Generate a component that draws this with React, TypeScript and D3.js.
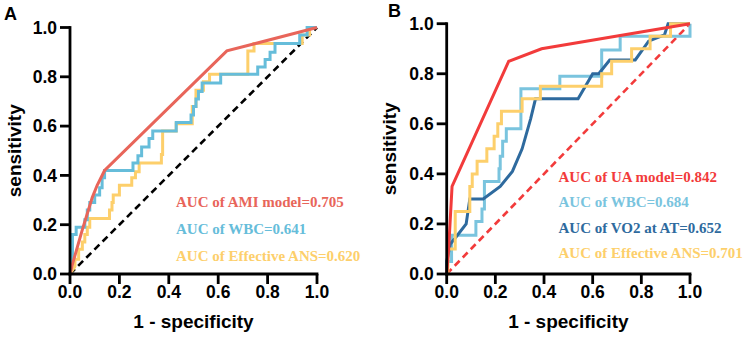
import React from "react";
import * as d3 from "d3";

type P = [number, number];

// ---------- Panel A data ----------
const amiModelA: P[] = [[0,0],[0.01,0.04],[0.05,0.18],[0.09,0.31],[0.11,0.36],[0.14,0.42],[0.635,0.905],[1,1]];
const wbcA: P[] = [[0,0],[0.01,0.06],[0.01,0.16],[0.025,0.16],[0.025,0.19],[0.06,0.19],[0.06,0.22],[0.07,0.22],[0.07,0.26],[0.08,0.26],[0.08,0.29],[0.1,0.29],[0.1,0.32],[0.12,0.32],[0.12,0.35],[0.13,0.35],[0.13,0.39],[0.14,0.39],[0.14,0.42],[0.255,0.42],[0.255,0.45],[0.275,0.45],[0.275,0.48],[0.29,0.48],[0.29,0.515],[0.32,0.515],[0.32,0.55],[0.335,0.55],[0.335,0.58],[0.43,0.58],[0.43,0.615],[0.49,0.615],[0.49,0.645],[0.5,0.645],[0.5,0.68],[0.51,0.68],[0.51,0.71],[0.52,0.71],[0.52,0.74],[0.535,0.74],[0.535,0.775],[0.61,0.775],[0.61,0.81],[0.76,0.81],[0.76,0.84],[0.79,0.84],[0.79,0.87],[0.81,0.87],[0.81,0.9],[0.83,0.9],[0.83,0.935],[0.93,0.935],[0.93,0.97],[0.96,0.97],[0.96,1],[1,1]];
const ansA: P[] = [[0,0],[0.02,0.03],[0.02,0.06],[0.035,0.06],[0.035,0.1],[0.05,0.1],[0.05,0.13],[0.06,0.13],[0.06,0.16],[0.07,0.16],[0.07,0.19],[0.08,0.19],[0.08,0.225],[0.16,0.225],[0.16,0.26],[0.17,0.26],[0.17,0.29],[0.175,0.29],[0.175,0.32],[0.2,0.32],[0.2,0.36],[0.25,0.36],[0.25,0.39],[0.265,0.39],[0.265,0.415],[0.28,0.415],[0.28,0.45],[0.37,0.45],[0.37,0.485],[0.375,0.485],[0.375,0.58],[0.43,0.58],[0.43,0.61],[0.495,0.61],[0.495,0.68],[0.51,0.68],[0.51,0.745],[0.54,0.745],[0.54,0.78],[0.565,0.78],[0.565,0.81],[0.72,0.81],[0.72,0.905],[0.745,0.905],[0.745,0.935],[0.94,0.935],[0.94,0.97],[0.97,0.97],[0.97,1],[1,1]];

// ---------- Panel B data ----------
const uaModelB: P[] = [[0,0],[0.008,0.1],[0.022,0.35],[0.255,0.85],[0.39,0.9],[1,1]];
const wbcB: P[] = [[0,0],[0,0.05],[0.02,0.05],[0.02,0.155],[0.12,0.155],[0.12,0.21],[0.145,0.21],[0.145,0.26],[0.155,0.26],[0.155,0.37],[0.215,0.37],[0.215,0.42],[0.22,0.42],[0.22,0.47],[0.23,0.47],[0.23,0.53],[0.245,0.53],[0.245,0.58],[0.305,0.58],[0.305,0.74],[0.465,0.74],[0.465,0.79],[0.637,0.79],[0.637,0.895],[0.713,0.895],[0.713,0.95],[1,0.95],[1,1]];
const vo2B: P[] = [[0,0],[0,0.05],[0.015,0.12],[0.04,0.15],[0.08,0.2],[0.095,0.3],[0.15,0.3],[0.22,0.35],[0.27,0.41],[0.31,0.5],[0.345,0.62],[0.365,0.7],[0.54,0.7],[0.6,0.8],[0.625,0.8],[0.67,0.855],[0.775,0.855],[0.83,0.93],[0.895,0.955],[0.91,1],[1,1]];
const ansB: P[] = [[0,0],[0.005,0],[0.005,0.1],[0.035,0.1],[0.035,0.25],[0.095,0.25],[0.095,0.35],[0.105,0.35],[0.105,0.4],[0.125,0.4],[0.125,0.45],[0.165,0.45],[0.165,0.5],[0.195,0.5],[0.195,0.55],[0.21,0.55],[0.21,0.6],[0.225,0.6],[0.225,0.65],[0.31,0.65],[0.31,0.7],[0.385,0.7],[0.385,0.75],[0.637,0.75],[0.637,0.8],[0.678,0.8],[0.678,0.85],[0.76,0.85],[0.76,0.9],[0.836,0.9],[0.836,0.95],[0.92,0.95],[0.92,1],[1,1]];
const diagonal: P[] = [[0,0],[1,1]];

const ticks = [0, 0.2, 0.4, 0.6, 0.8, 1.0];
const legendA = ["AUC of AMI model=0.705", "AUC of WBC=0.641", "AUC of Effective ANS=0.620"];
const legendB = ["AUC of UA model=0.842", "AUC of WBC=0.684", "AUC of VO2 at AT=0.652", "AUC of Effective ANS=0.701"];

const SANS = "'Liberation Sans', Arial, sans-serif";
const SERIF = "'Liberation Serif', 'Times New Roman', serif";

interface Series { data: P[]; color: string; dash?: string; }

function Panel(props: {
  label: string; labelX: number; labelY: number;
  xr: [number, number]; yr: [number, number];
  series: Series[]; legend: string[]; legendColors: string[];
  legendX: number; legendY: number[]; titleYX: number;
}) {
  const x = d3.scaleLinear().domain([0, 1]).range(props.xr);
  const y = d3.scaleLinear().domain([0, 1]).range(props.yr);
  const line = d3.line<P>().x(d => x(d[0])).y(d => y(d[1])).curve(d3.curveLinear);
  const fmt = d3.format(".1f");
  const tl = 10;
  const aw = 2.8;
  const cx = (props.xr[0] + props.xr[1]) / 2;
  const cy = (props.yr[0] + props.yr[1]) / 2;
  return (
    <g>
      <text x={props.labelX} y={props.labelY} fontFamily={SANS} fontWeight="bold" fontSize={18}>{props.label}</text>
      {props.series.map((s, i) => (
        <path key={i} d={line(s.data) || ""} fill="none" stroke={s.color} strokeWidth={s.dash ? 2.6 : 3}
          strokeDasharray={s.dash} strokeLinejoin="miter" strokeLinecap="butt" />
      ))}
      {/* axes */}
      <line x1={x(0)} x2={x(0)} y1={y(0) + aw / 2} y2={y(1) - aw / 2} stroke="#000" strokeWidth={aw} />
      <line x1={x(0) - aw / 2} x2={x(1) + aw / 2} y1={y(0)} y2={y(0)} stroke="#000" strokeWidth={aw} />
      {ticks.map(t => (
        <g key={"y" + t}>
          <line x1={x(0) - tl} x2={x(0)} y1={y(t)} y2={y(t)} stroke="#000" strokeWidth={aw} />
          <text x={x(0) - 13} y={y(t) + 6.3} textAnchor="end" fontFamily={SANS} fontWeight="bold" fontSize={17.5}>{fmt(t)}</text>
        </g>
      ))}
      {ticks.map(t => (
        <g key={"x" + t}>
          <line x1={x(t)} x2={x(t)} y1={y(0)} y2={y(0) + tl} stroke="#000" strokeWidth={aw} />
          <text x={x(t)} y={297.5} textAnchor="middle" fontFamily={SANS} fontWeight="bold" fontSize={17.5}>{fmt(t)}</text>
        </g>
      ))}
      <text x={cx} y={328} textAnchor="middle" fontFamily={SANS} fontWeight="bold" fontSize={19}>1 - specificity</text>
      <text transform={`translate(${props.titleYX},${cy}) rotate(-90)`} textAnchor="middle" fontFamily={SANS} fontWeight="bold" fontSize={19}>sensitivity</text>
      {props.legend.map((t, i) => (
        <text key={t} x={props.legendX} y={props.legendY[i]} fill={props.legendColors[i]} fontFamily={SERIF} fontWeight="bold" fontSize={15}>{t}</text>
      ))}
    </g>
  );
}

export default function App() {
  const redA = "#E8655A", blueA = "#66BDDA", yellowA = "#FDCF6B";
  const redB = "#F23B3B", lblueB = "#7AC4DE", dblueB = "#2E6A9E", yellowB = "#FDCF6B";
  return (
    <svg width={747} height={342} style={{ position: "absolute", left: 0, top: 0, background: "#fff" }}>
      <rect width={747} height={342} fill="#fff" />
      <Panel label="A" labelX={4} labelY={20} xr={[70, 317]} yr={[274, 27.5]}
        series={[
          { data: diagonal, color: "#000", dash: "7,4.5" },
          { data: ansA, color: yellowA },
          { data: wbcA, color: blueA },
          { data: amiModelA, color: redA },
        ]}
        legend={legendA} legendColors={[redA, blueA, yellowA]}
        legendX={176} legendY={[206.5, 233.5, 260.5]} titleYX={21} />
      <Panel label="B" labelX={388} labelY={17} xr={[446.7, 690]} yr={[274, 23.7]}
        series={[
          { data: diagonal, color: redB, dash: "7,4.5" },
          { data: wbcB, color: lblueB },
          { data: vo2B, color: dblueB },
          { data: ansB, color: yellowB },
          { data: uaModelB, color: redB },
        ]}
        legend={legendB} legendColors={[redB, lblueB, dblueB, yellowB]}
        legendX={558.5} legendY={[181.5, 207, 232.5, 258]} titleYX={396} />
    </svg>
  );
}
